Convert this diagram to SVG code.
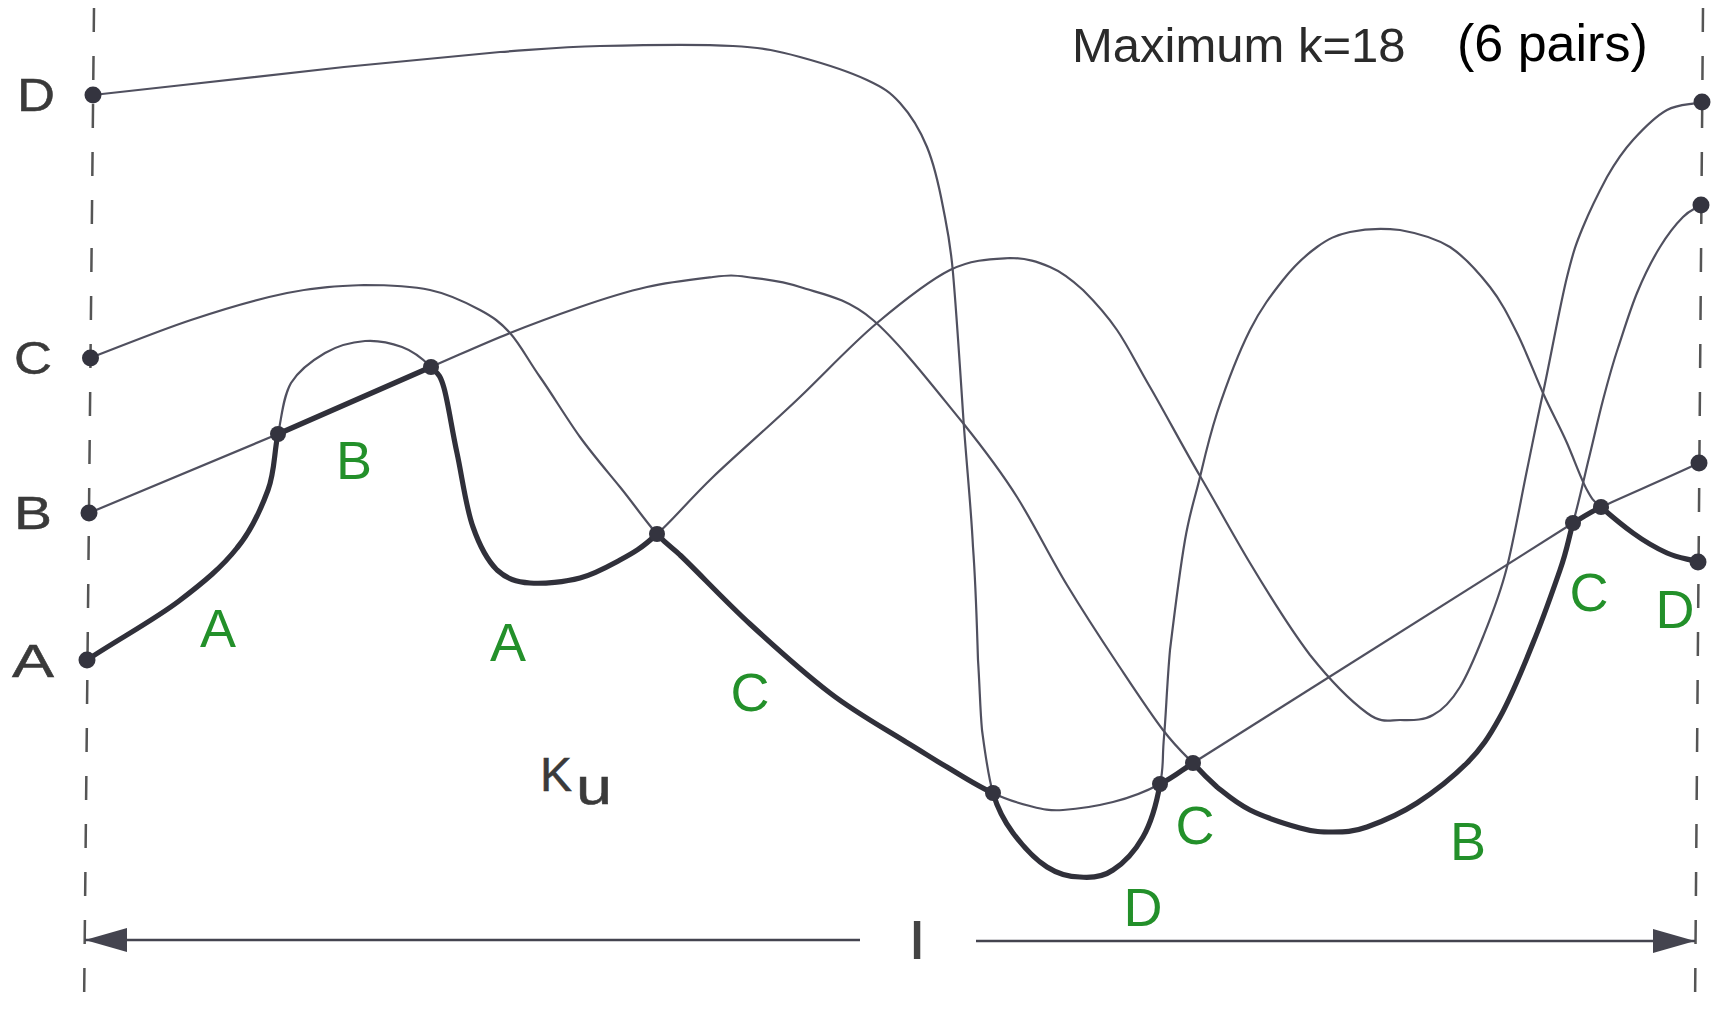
<svg xmlns="http://www.w3.org/2000/svg" width="1720" height="1011" viewBox="0 0 1720 1011">
<defs>
<style>
.thin{fill:none;stroke:#50505f;stroke-width:2.2;stroke-linecap:round;stroke-linejoin:round}
.thick{fill:none;stroke:#30303a;stroke-width:5.2;stroke-linecap:round;stroke-linejoin:round}
.dash{fill:none;stroke:#555;stroke-width:2.5;stroke-dasharray:24 24}
.axis{fill:none;stroke:#44444f;stroke-width:2.5}
.dot{fill:#34343f}
.lbl{font-family:"Liberation Sans",Arial,sans-serif;font-size:46px;fill:#3a3a3a;stroke:#3a3a3a;stroke-width:0.5;text-anchor:middle}
.seg{font-family:"Liberation Sans",Arial,sans-serif;font-size:54px;fill:#23902a;text-anchor:middle}
.ttl{font-family:"Liberation Sans",Arial,sans-serif}
</style>
<marker id="arrow" viewBox="0 0 42 24" refX="42" refY="12" markerWidth="42" markerHeight="24" markerUnits="userSpaceOnUse" orient="auto"><path d="M0,0 L42,12 L0,24 z" fill="#44444f"/></marker>
</defs>
<rect width="1720" height="1011" fill="#ffffff"/>

<g id="frame">
<line class="dash" x1="94" y1="8" x2="84" y2="1011"/>
<line class="dash" x1="1703" y1="8" x2="1695" y2="1011"/>
<line class="axis" x1="860" y1="940" x2="85" y2="940" marker-end="url(#arrow)"/>
<line class="axis" x1="976" y1="941" x2="1695" y2="941" marker-end="url(#arrow)"/>
</g>

<g id="connectors">
<g id="curve-A">
<path class="thin" d="M278,434 C282,416 283,397 291,383 C299,370 313,360 325,353 C337,346 352,342 365,341 C378,340 391,343 402,347 C413,351 424,360 431,367"/>
<path class="thin" d="M657,534 C672,521 689,500 713,477 C737,454 773,423 800,397 C827,371 852,344 877,323 C902,302 928,281 950,270 C972,259 993,259 1010,258 C1027,258 1038,262 1050,267 C1062,272 1072,280 1083,290 C1094,301 1106,314 1117,330 C1128,346 1136,363 1150,387 C1164,411 1183,447 1200,476 C1217,505 1232,533 1250,563 C1268,593 1291,630 1310,655 C1330,680 1352,702 1367,713 C1382,724 1389,720 1400,720 C1411,720 1423,721 1433,715 C1443,710 1452,700 1460,687 C1468,674 1475,657 1483,637 C1491,617 1500,595 1507,567 C1514,539 1521,499 1527,470 C1533,441 1536,425 1543,393 C1550,361 1560,305 1567,277 C1574,249 1576,244 1583,227 C1590,210 1599,192 1607,177 C1615,163 1623,151 1633,140 C1643,129 1656,116 1667,110 C1678,104 1690,105 1702,102"/>
</g>
<g id="curve-B">
<path class="thin" d="M89,513 L278,434"/>
<path class="thin" d="M431,367 C470,350 485,343 510,333 C535,323 557,315 580,307 C603,299 625,292 647,287 C669,282 696,279 713,277 C730,275 733,275 747,277 C762,279 779,280 800,287 C821,294 846,297 873,320 C900,343 939,394 963,423 C987,453 1000,470 1017,497 C1034,524 1050,557 1067,585 C1084,613 1101,639 1117,663 C1133,687 1150,713 1163,730 C1176,747 1184,754 1193,763"/>
<path class="thin" d="M1573,523 C1578,505 1583,483 1588,462 C1593,442 1598,419 1603,400 C1608,381 1612,366 1618,348 C1624,330 1630,310 1637,293 C1644,276 1652,260 1660,247 C1668,234 1676,224 1683,217 C1690,210 1695,209 1701,205"/>
</g>
<g id="curve-C">
<path class="thin" d="M90,358 C124,345 158,331 191,320 C224,309 258,299 287,293 C316,287 340,286 364,285 C388,285 411,286 430,290 C449,294 467,303 480,310 C493,317 500,322 510,333 C520,344 528,360 540,377 C552,394 567,419 580,437 C593,455 607,471 620,487 C633,503 647,523 657,534"/>
<path class="thin" d="M993,793 C1007,800 1018,803 1030,806 C1042,809 1049,811 1063,810 C1077,809 1097,806 1113,802 C1129,798 1147,791 1160,784"/>
<path class="thin" d="M1193,763 L1573,523"/>
<path class="thin" d="M1601,507 C1634,492 1667,478 1699,463"/>
</g>
<g id="curve-D">
<path class="thin" d="M93,95 C177,86 276,74 344,67 C412,60 457,56 500,52 C543,49 561,47 600,46 C639,45 700,44 733,46 C766,48 778,51 800,57 C822,63 850,72 867,80 C884,88 890,92 900,103 C910,114 920,130 927,147 C934,164 939,186 943,207 C947,228 950,239 953,273 C956,307 960,367 963,413 C966,459 971,506 973,547 C976,588 977,630 978,660 C980,691 980,708 982,730 C985,752 988,776 993,793"/>
<path class="thin" d="M1160,784 C1164,767 1162,759 1164,737 C1166,715 1167,683 1170,650 C1174,617 1180,569 1185,540 C1190,511 1195,498 1200,477 C1205,456 1209,438 1217,413 C1225,389 1239,352 1250,330 C1261,308 1272,294 1283,280 C1294,266 1306,255 1317,247 C1328,239 1336,235 1350,232 C1364,229 1383,228 1400,230 C1417,233 1435,238 1450,247 C1465,257 1479,273 1490,287 C1501,301 1508,315 1517,333 C1526,351 1535,375 1543,393 C1551,411 1560,427 1567,443 C1574,459 1581,479 1587,490 C1593,501 1593,500 1601,507"/>
</g>
<g id="envelope">
<path class="thick" d="M87,660 C117,640 154,620 179,601 C204,582 222,567 237,548 C252,530 261,509 268,490 C275,471 274,452 278,434"/>
<path class="thick" d="M278,434 L431,367"/>
<path class="thick" d="M431,367 C438,374 440,374 444,388 C448,402 452,430 457,453 C462,476 466,508 473,527 C480,547 488,561 497,570 C507,579 516,582 530,583 C544,584 565,582 580,578 C595,574 607,567 620,560 C633,553 642,548 657,534"/>
<path class="thick" d="M657,534 C667,545 673,548 680,555 C696,570 725,601 750,624 C775,647 804,673 830,693 C856,713 887,730 906,742 C926,754 933,759 947,767 C962,776 979,787 993,793"/>
<path class="thick" d="M993,793 C998,810 1004,821 1013,833 C1022,845 1036,860 1047,867 C1058,874 1069,877 1080,877 C1091,878 1103,877 1113,870 C1124,863 1135,851 1143,837 C1151,823 1157,801 1160,784"/>
<path class="thick" d="M1160,784 C1173,778 1182,770 1193,763"/>
<path class="thick" d="M1193,763 C1202,773 1208,779 1217,787 C1227,795 1236,803 1250,810 C1264,817 1286,824 1300,828 C1314,832 1322,832 1333,832 C1344,832 1353,832 1367,827 C1381,822 1400,814 1417,803 C1434,792 1453,777 1467,763 C1481,749 1489,737 1500,717 C1511,697 1523,668 1533,643 C1543,619 1553,590 1560,570 C1567,550 1568,541 1573,523"/>
<path class="thick" d="M1573,523 C1583,517 1591,512 1601,507"/>
<path class="thick" d="M1601,507 C1609,514 1622,525 1633,533 C1644,541 1656,548 1667,553 C1678,558 1689,559 1698,562"/>
</g>
</g>

<g id="points">
<circle class="dot" cx="93" cy="95" r="8.5"/>
<circle class="dot" cx="90.5" cy="358" r="8.5"/>
<circle class="dot" cx="89" cy="513" r="8.5"/>
<circle class="dot" cx="87" cy="660" r="8.5"/>
<circle class="dot" cx="1702" cy="102" r="8.5"/>
<circle class="dot" cx="1701" cy="205" r="8.5"/>
<circle class="dot" cx="1699" cy="463" r="8.5"/>
<circle class="dot" cx="1698" cy="562" r="8.5"/>
<circle class="dot" cx="278" cy="434" r="8"/>
<circle class="dot" cx="431" cy="367" r="8"/>
<circle class="dot" cx="657" cy="534" r="8"/>
<circle class="dot" cx="993" cy="793" r="8"/>
<circle class="dot" cx="1160" cy="784" r="8"/>
<circle class="dot" cx="1193" cy="763" r="8"/>
<circle class="dot" cx="1573" cy="523" r="8"/>
<circle class="dot" cx="1601" cy="507" r="8"/>
</g>

<g id="axis-labels">
<text class="lbl" x="36" y="111" textLength="38" lengthAdjust="spacingAndGlyphs">D</text>
<text class="lbl" x="33" y="374" textLength="38" lengthAdjust="spacingAndGlyphs">C</text>
<text class="lbl" x="33" y="529" textLength="38" lengthAdjust="spacingAndGlyphs">B</text>
<text class="lbl" x="33" y="677" textLength="42" lengthAdjust="spacingAndGlyphs">A</text>
<text class="lbl" x="556" y="791" style="font-size:48px">K</text>
<text class="lbl" x="594" y="804" style="font-size:52px" textLength="36" lengthAdjust="spacingAndGlyphs">u</text>
<text class="lbl" x="917" y="958" style="font-size:50px;fill:#444;stroke:#444;stroke-width:2">l</text>
</g>

<g id="segment-labels">
<text class="seg" x="354" y="479">B</text>
<text class="seg" x="218" y="647">A</text>
<text class="seg" x="508" y="661">A</text>
<text class="seg" x="750" y="711">C</text>
<text class="seg" x="1195" y="844">C</text>
<text class="seg" x="1143" y="926">D</text>
<text class="seg" x="1468" y="860">B</text>
<text class="seg" x="1589" y="611">C</text>
<text class="seg" x="1675" y="628">D</text>
</g>

<g id="title">
<text class="ttl" x="1072" y="62" style="font-size:49px;fill:#2a2a2a">Maximum k=18</text>
<text class="ttl" x="1457" y="61" style="font-size:52px;fill:#000">(6 pairs)</text>
</g>
</svg>
